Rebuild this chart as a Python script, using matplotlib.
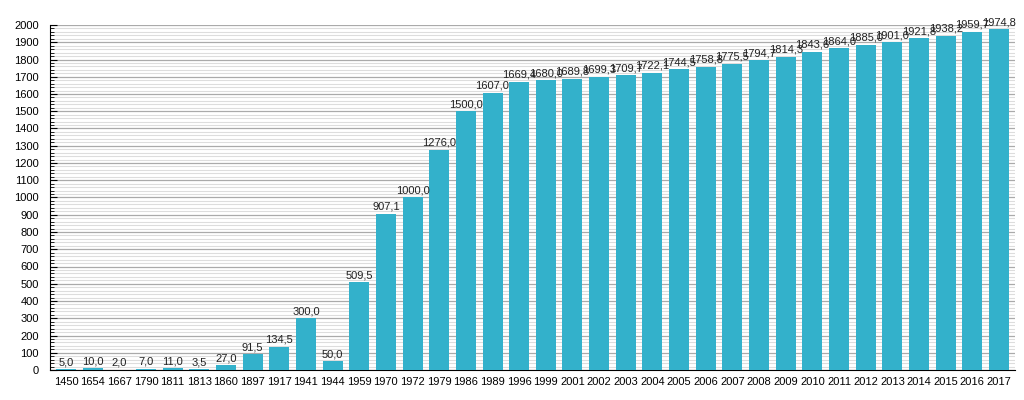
import matplotlib
matplotlib.use("Agg")
import matplotlib.pyplot as plt
from matplotlib.ticker import MultipleLocator

plt.rcParams['font.family'] = ['Liberation Sans', 'DejaVu Sans']

years = ["1450", "1654", "1667", "1790", "1811", "1813", "1860", "1897", "1917",
         "1941", "1944", "1959", "1970", "1972", "1979", "1986", "1989", "1996",
         "1999", "2001", "2002", "2003", "2004", "2005", "2006", "2007", "2008",
         "2009", "2010", "2011", "2012", "2013", "2014", "2015", "2016", "2017"]
values = [5.0, 10.0, 2.0, 7.0, 11.0, 3.5, 27.0, 91.5, 134.5,
          300.0, 50.0, 509.5, 907.1, 1000.0, 1276.0, 1500.0, 1607.0, 1669.4,
          1680.0, 1689.8, 1699.3, 1709.7, 1722.1, 1744.5, 1758.8, 1775.5, 1794.7,
          1814.3, 1843.6, 1864.0, 1885.0, 1901.0, 1921.8, 1938.2, 1959.7, 1974.8]

fig = plt.figure(figsize=(10.24, 4.0), dpi=100)
ax = fig.add_axes([50/1024, 30/400, 965/1024, 345/400])

x = range(len(years))
bars = ax.bar(x, values, width=0.75, color="#33b1cb", zorder=3)

# value labels, comma as decimal separator
for xi, v in zip(x, values):
    ax.text(xi, v + 12, ("%.1f" % v).replace(".", ","), ha="center", va="bottom",
            fontsize=8, color="#222222", zorder=4)

ax.set_xlim(-0.6, len(years) - 0.4)
ax.set_ylim(0, 2000)
ax.set_xticks(list(x))
ax.set_xticklabels(years, fontsize=8)
ax.tick_params(axis="x", length=0, pad=5)

ax.yaxis.set_major_locator(MultipleLocator(100))
ax.yaxis.set_minor_locator(MultipleLocator(20))
ax.tick_params(axis="y", which="major", length=5, labelsize=8, direction="in", pad=8)
ax.tick_params(axis="y", which="minor", length=3, direction="in")

ax.grid(axis="y", which="major", color="#aaaaaa", linewidth=0.9, zorder=0)
ax.grid(axis="y", which="minor", color="#dddddd", linewidth=0.8, zorder=0)

for s in ["top", "right"]:
    ax.spines[s].set_visible(False)
ax.spines["left"].set_color("black")
ax.spines["bottom"].set_color("black")

fig.savefig("out.png", dpi=100)
